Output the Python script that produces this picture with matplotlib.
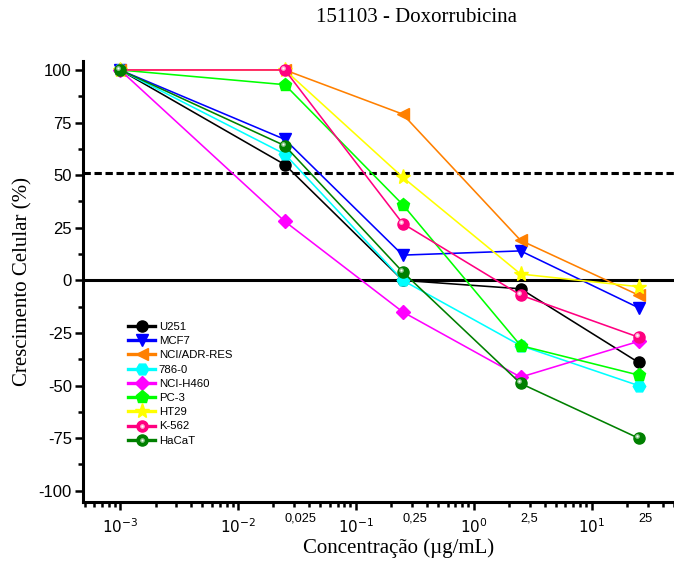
import matplotlib
matplotlib.use("Agg")
import matplotlib.pyplot as plt
from matplotlib.ticker import FixedLocator, LogLocator, NullFormatter, MultipleLocator
from matplotlib.transforms import offset_copy
from matplotlib.legend_handler import HandlerTuple

plt.rcParams["mathtext.fontset"] = "custom"
plt.rcParams["mathtext.rm"] = "Liberation Sans"
plt.rcParams["mathtext.it"] = "Liberation Sans:italic"
plt.rcParams["mathtext.bf"] = "Liberation Sans:bold"
plt.rcParams["axes.unicode_minus"] = False

# Concentrations (ug/mL) and their axis labels
conc = [0.001, 0.025, 0.25, 2.5, 25]
conc_labels = ["0,025", "0,25", "2,5", "25"]
decades = [1e-3, 1e-2, 1e-1, 1e0, 1e1]
decade_labels = [r"$\mathregular{10^{-3}}$", r"$\mathregular{10^{-2}}$",
                 r"$\mathregular{10^{-1}}$", r"$\mathregular{10^{0}}$",
                 r"$\mathregular{10^{1}}$"]

# Cell growth (%) per cell line
u251 = [100, 55, 0, -4, -39]
mcf7 = [100, 67, 12, 14, -13]
nci_adr = [100, 100, 79, 19, -7]
c786 = [100, 60, 0, -31, -50]
nci_h460 = [100, 28, -15, -46, -29]
pc3 = [100, 93, 36, -31, -45]
ht29 = [100, 100, 49, 3, -3]
k562 = [100, 100, 27, -7, -27]
hacat = [100, 64, 4, -49, -75]

gi50_line = 51

fig = plt.figure(figsize=(6.74, 5.74), dpi=100)
ax = fig.add_axes([83 / 674, 1 - 501.7 / 574, 591 / 674, 441 / 574])

ax.set_xscale("log")
ax.set_xlim(4.85e-4, 50)
ax.set_ylim(-105.2, 104.4)

# reference lines
ax.axhline(0, color="black", lw=2.2, zorder=1)
ax.axhline(gi50_line, color="black", lw=2.2, ls=(0, (2.4, 1.2)), zorder=1)

series = [
    ("U251", u251, "black", "o", 8, None),
    ("MCF7", mcf7, "#0000FF", "v", 9, None),
    ("NCI/ADR-RES", nci_adr, "#FF8000", "<", 9, None),
    ("786-0", c786, "#00FFFF", "H", 9, None),
    ("NCI-H460", nci_h460, "#FF00FF", "D", 7, None),
    ("PC-3", pc3, "#00FF00", "p", 9.5, None),
    ("HT29", ht29, "#FFFF00", "*", 11, None),
    ("K-562", k562, "#FF0080", "o", 8, "#FFB0D4"),
    ("HaCaT", hacat, "#008000", "o", 8, "#8FC88F"),
]

# glossy spot drawn slightly up-left of each sphere marker
hl_trans = offset_copy(ax.transData, fig=fig, x=-2.0, y=2.0, units="dots")
handles = []
labels = []
for name, vals, color, marker, ms, shine in series:
    (ln,) = ax.plot(conc, vals, color=color, lw=1.15, marker=marker, ms=ms,
                    mec=color, mfc=color, zorder=3)
    if shine is not None:
        (h1,) = ax.plot(conc, vals, ls="none", marker="o", ms=3.4, mfc=shine,
                        mec="none", transform=hl_trans, zorder=3)
        (h2,) = ax.plot(conc, vals, ls="none", marker="o", ms=1.4, mfc="white",
                        mec="none", transform=hl_trans, zorder=3)
        handles.append((ln, h1, h2))
    else:
        handles.append(ln)
    labels.append(name)

leg = fig.legend(handles, labels, loc="upper left",
                 bbox_to_anchor=(128 / 674, 1 - 322 / 574),
                 bbox_transform=fig.transFigure, frameon=False,
                 borderpad=0, borderaxespad=0, handlelength=2.4,
                 handletextpad=0.3, labelspacing=0.37, numpoints=1,
                 prop={"family": "Liberation Sans", "size": 8.2},
                 handler_map={tuple: HandlerTuple(ndivide=1, pad=0)})
for l in leg.get_lines():
    if l.get_linestyle() not in ("None", "none", ""):
        l.set_linewidth(2.4)

# axes styling
for side in ("top", "right"):
    ax.spines[side].set_visible(False)
for side in ("left", "bottom"):
    ax.spines[side].set_linewidth(2.2)

ax.yaxis.set_major_locator(MultipleLocator(25))
ax.yaxis.set_minor_locator(MultipleLocator(12.5))
ax.xaxis.set_major_locator(FixedLocator(decades))
ax.set_xticklabels(decade_labels)
ax.xaxis.set_minor_locator(LogLocator(base=10, subs=range(2, 10), numticks=20))
ax.xaxis.set_minor_formatter(NullFormatter())

ax.tick_params(axis="both", which="major", length=6, width=1.8, direction="out")
ax.tick_params(axis="both", which="minor", length=3.5, width=1.8, direction="out")
ax.tick_params(axis="y", labelsize=12, pad=2)
ax.tick_params(axis="x", labelsize=11, pad=5)
for t in ax.get_yticklabels():
    t.set_family("Liberation Sans")

for x, lbl in zip(conc[1:], conc_labels):
    ax.annotate(lbl, xy=(x, 0), xycoords=("data", "axes fraction"),
                xytext=(0, -8), textcoords="offset points", ha="left", va="top",
                fontsize=9.2, family="Liberation Sans")

fig.text(417 / 674, 1 - 17 / 574, "151103 - Doxorrubicina", ha="center",
         va="center", fontsize=15, family="Liberation Serif")
fig.text(23 / 674, 1 - 282 / 574, "Crescimento Celular (%)", ha="center",
         va="center", rotation=90, fontsize=15, family="Liberation Serif")
fig.text(399 / 674, 1 - 548 / 574, "Concentração (µg/mL)", ha="center",
         va="center", fontsize=15, family="Liberation Serif")

fig.savefig("out.png", dpi=100)
